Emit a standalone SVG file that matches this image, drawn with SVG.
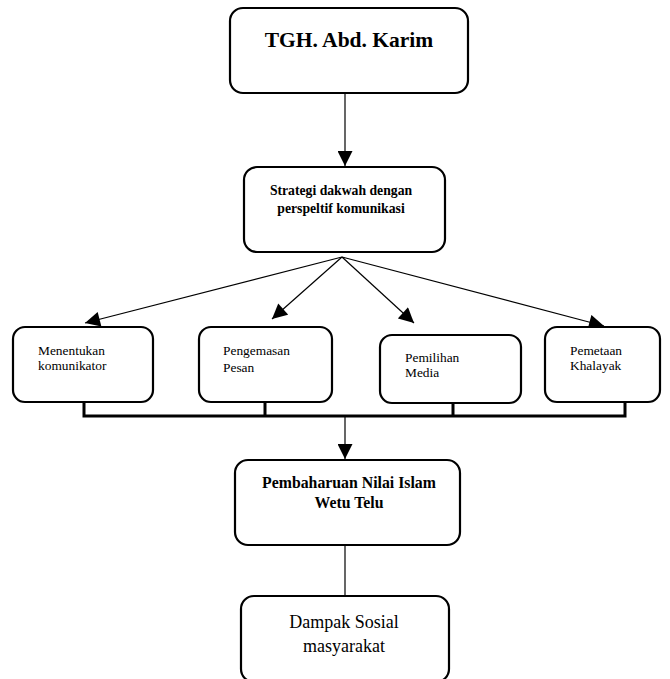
<svg xmlns="http://www.w3.org/2000/svg" width="670" height="679" viewBox="0 0 670 679">
<style>
.box{fill:#fff;stroke:#000;stroke-width:2.2}
text{font-family:'Liberation Serif','Times New Roman','DejaVu Serif',serif;fill:#000}
.b{font-weight:bold}
.c{fill:none;stroke:#000;stroke-width:1.2}
.bus{fill:none;stroke:#000;stroke-width:3}
</style>
<defs>
<marker id="ah" viewBox="0 0 10 10" refX="10" refY="5" markerWidth="16" markerHeight="15" markerUnits="userSpaceOnUse" orient="auto">
<path d="M0,0 L10,5 L0,10 z" fill="#000"/>
</marker>
</defs>
<rect width="670" height="679" fill="#fff"/>
<g id="connectors">
<line class="c" x1="345" y1="93" x2="345" y2="166" marker-end="url(#ah)"/>
<line class="c" x1="342" y1="257" x2="85" y2="323" marker-end="url(#ah)"/>
<line class="c" x1="342" y1="257" x2="272" y2="319" marker-end="url(#ah)"/>
<line class="c" x1="342" y1="257" x2="414" y2="323" marker-end="url(#ah)"/>
<line class="c" x1="342" y1="257" x2="604" y2="326" marker-end="url(#ah)"/>
<path class="bus" d="M84,402 V416 H625 V402 M265,402 V416 M453,403 V416"/>
<line class="c" x1="345" y1="416" x2="345" y2="459" marker-end="url(#ah)"/>
<line class="c" x1="345" y1="545" x2="345" y2="596"/>
</g>
<g id="n1">
<rect class="box" x="230" y="8" width="238" height="85" rx="13"/>
<text class="b" x="349" y="47" font-size="21.5" text-anchor="middle">TGH. Abd. Karim</text>
</g>
<g id="n2">
<rect class="box" x="244" y="167" width="201" height="85" rx="13"/>
<text class="b" x="341" y="195" font-size="13.7" text-anchor="middle">Strategi dakwah dengan</text>
<text class="b" x="341" y="213" font-size="13.7" text-anchor="middle">perspeltif komunikasi</text>
</g>
<g id="n3">
<rect class="box" x="13" y="327" width="140" height="75" rx="12"/>
<text x="38" y="355" font-size="13.4">Menentukan</text>
<text x="38" y="370" font-size="13.4">komunikator</text>
</g>
<g id="n4">
<rect class="box" x="199" y="327" width="133" height="75" rx="12"/>
<text x="223" y="355" font-size="13.4">Pengemasan</text>
<text x="223" y="372" font-size="13.4">Pesan</text>
</g>
<g id="n5">
<rect class="box" x="380" y="335" width="141" height="68" rx="12"/>
<text x="405" y="362" font-size="13.4">Pemilihan</text>
<text x="405" y="377" font-size="13.4">Media</text>
</g>
<g id="n6">
<rect class="box" x="545" y="327" width="115" height="75" rx="12"/>
<text x="570" y="355" font-size="13.4">Pemetaan</text>
<text x="570" y="370" font-size="13.4">Khalayak</text>
</g>
<g id="n7">
<rect class="box" x="235" y="460" width="225" height="85" rx="13"/>
<text class="b" x="349" y="488" font-size="15.8" text-anchor="middle">Pembaharuan Nilai Islam</text>
<text class="b" x="349" y="508" font-size="15.8" text-anchor="middle">Wetu Telu</text>
</g>
<g id="n8">
<rect class="box" x="241" y="596" width="208" height="86" rx="13"/>
<text x="344" y="628" font-size="18" text-anchor="middle">Dampak Sosial</text>
<text x="344" y="652" font-size="18" text-anchor="middle">masyarakat</text>
</g>
</svg>
